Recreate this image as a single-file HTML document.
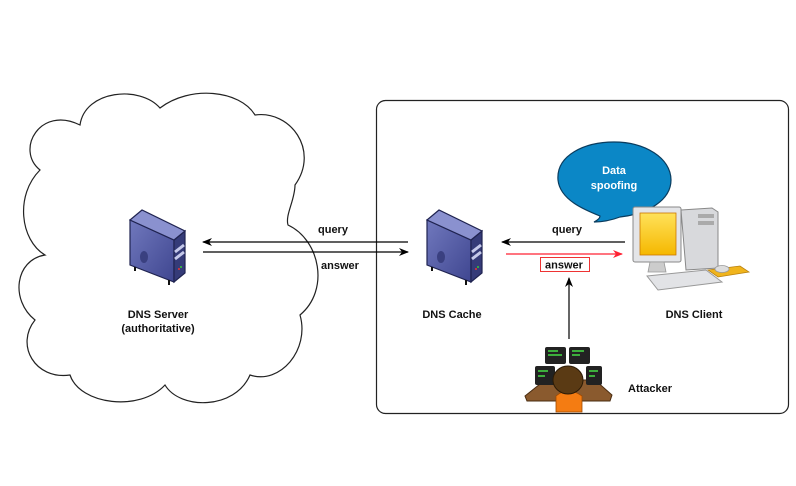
<!DOCTYPE html>
<html><head><meta charset="utf-8"><style>
html,body{margin:0;padding:0;background:#fff;}
svg{display:block;}
text{font-family:"Liberation Sans",sans-serif;font-weight:bold;font-size:11px;fill:#111;}
</style></head><body>
<svg width="796" height="486" viewBox="0 0 796 486" xmlns="http://www.w3.org/2000/svg">
<defs>
<marker id="ah" markerWidth="10" markerHeight="8" refX="9" refY="4" orient="auto" markerUnits="userSpaceOnUse"><path d="M0,0 L10,4 L0,8 L3,4Z" fill="#000"/></marker>
<marker id="ahr" markerWidth="10" markerHeight="8" refX="9" refY="4" orient="auto" markerUnits="userSpaceOnUse"><path d="M0,0 L10,4 L0,8 L3,4Z" fill="#f23"/></marker>
<linearGradient id="sl" x1="0" y1="0" x2="1" y2="1"><stop offset="0" stop-color="#7078bd"/><stop offset="1" stop-color="#3f4690"/></linearGradient>
<linearGradient id="scr" x1="0" y1="0" x2="0" y2="1"><stop offset="0" stop-color="#ffe25a"/><stop offset="1" stop-color="#f5b800"/></linearGradient>
<g id="srv">
<path d="M3,13 L47,33 L47,75 L3,58Z" fill="url(#sl)" stroke="#1f2350" stroke-width="1.2"/>
<path d="M47,33 L58,24 L58,66 L47,75Z" fill="#353b78" stroke="#1f2350" stroke-width="1.2"/>
<path d="M3,13 L15,3 L58,24 L47,33Z" fill="#8a91cf" stroke="#1f2350" stroke-width="1.2"/>
<path d="M48,45 L57,38 M48,52 L57,45" stroke="#c5c9ea" stroke-width="3"/>
<circle cx="52" cy="62" r="1" fill="#e33"/><circle cx="54" cy="60" r="1" fill="#3c3"/>
<ellipse cx="17" cy="50" rx="4" ry="6" fill="#3a4080"/>
<path d="M8,60 L8,64 M42,73 L42,78" stroke="#111" stroke-width="2"/>
</g>
</defs>
<!-- cloud -->
<path d="M40,170 C15,150 40,105 80,125 C85,90 140,85 160,108 C190,85 240,90 255,115 C290,110 320,150 295,185 C295,200 285,215 288,225 C320,240 330,290 300,315 C310,350 280,385 250,375 C235,410 180,410 165,385 C140,412 80,405 70,375 C35,380 15,345 35,320 C10,300 15,260 45,255 C20,240 15,195 40,170Z" fill="#fff" stroke="#222" stroke-width="1.2"/>
<!-- box -->
<rect x="376.5" y="100.5" width="412" height="313" rx="9" fill="#fff" stroke="#222" stroke-width="1.2"/>
<!-- servers -->
<use href="#srv" x="127" y="207"/>
<use href="#srv" x="424" y="207"/>
<!-- arrows left -->
<line x1="408" y1="242" x2="203" y2="242" stroke="#000" stroke-width="1.2" marker-end="url(#ah)"/>
<line x1="203" y1="252" x2="408" y2="252" stroke="#000" stroke-width="1.2" marker-end="url(#ah)"/>
<text x="318" y="233">query</text>
<text x="321" y="269">answer</text>
<!-- arrows right -->
<line x1="625" y1="242" x2="502" y2="242" stroke="#000" stroke-width="1.2" marker-end="url(#ah)"/>
<line x1="506" y1="254" x2="622" y2="254" stroke="#f23" stroke-width="1.2" marker-end="url(#ahr)"/>
<text x="552" y="233">query</text>
<rect x="540.5" y="257.5" width="49" height="14" fill="#fff" stroke="#e33" stroke-width="1"/>
<text x="545" y="268.5">answer</text>
<line x1="569" y1="339" x2="569" y2="278" stroke="#000" stroke-width="1.2" marker-end="url(#ah)"/>
<!-- bubble -->
<path d="M600,216 C585,210 560,200 558,180 C556,155 585,142 614,142 C645,142 671,158 671,180 C671,200 648,214 620,217 C612,220 603,222 594,222 C598,220 600,218 600,216Z" fill="#0b87c6" stroke="#0a3c5e" stroke-width="1.2"/>
<text x="614" y="174" text-anchor="middle" style="fill:#fff">Data</text>
<text x="614" y="189" text-anchor="middle" style="fill:#fff">spoofing</text>
<!-- computer -->
<path d="M681,210 L712,208 L718,212 L718,268 L686,270 Z" fill="#d8d9dc" stroke="#888" stroke-width="1"/>
<rect x="698" y="214" width="16" height="4" fill="#aaa"/><rect x="698" y="221" width="16" height="4" fill="#aaa"/>
<rect x="633" y="207" width="48" height="55" rx="2" fill="#e4e5e8" stroke="#888" stroke-width="1"/>
<rect x="640" y="213" width="36" height="42" fill="url(#scr)" stroke="#c70" stroke-width="0.8"/>
<path d="M650,262 L664,262 L666,272 L648,272Z" fill="#ccc" stroke="#999" stroke-width="0.8"/>
<path d="M647,276 L706,270 L722,282 L658,290 Z" fill="#e2e3e6" stroke="#999" stroke-width="1"/>
<path d="M708,270 L740,266 L749,272 L718,277 Z" fill="#f0b41c" stroke="#b88010" stroke-width="0.8"/>
<ellipse cx="722" cy="269" rx="7" ry="3.5" fill="#ddd" stroke="#999" stroke-width="0.8"/>
<!-- attacker -->
<path d="M525,396 L545,380 L595,380 L612,395 L610,401 L527,401 Z" fill="#8a5a2e" stroke="#4a2c10" stroke-width="1"/>
<rect x="545" y="347" width="21" height="17" rx="2" fill="#222"/>
<rect x="569" y="347" width="21" height="17" rx="2" fill="#222"/>
<rect x="535" y="366" width="20" height="19" rx="2" fill="#222"/>
<rect x="586" y="366" width="16" height="19" rx="2" fill="#222"/>
<path d="M548,351 h10 M548,355 h14 M572,351 h12 M572,355 h8 M538,371 h10 M538,376 h7 M589,371 h9 M589,376 h6" stroke="#4d4" stroke-width="1.5"/>
<path d="M556,412 L556,396 Q568,386 582,396 L582,412Z" fill="#f47c12" stroke="#a04a00" stroke-width="0.8"/>
<ellipse cx="568" cy="380" rx="15" ry="14" fill="#5a3a14" stroke="#2a1a06" stroke-width="1"/>
<!-- labels -->
<text x="158" y="318" text-anchor="middle">DNS Server</text>
<text x="158" y="332" text-anchor="middle">(authoritative)</text>
<text x="452" y="318" text-anchor="middle">DNS Cache</text>
<text x="694" y="318" text-anchor="middle">DNS Client</text>
<text x="628" y="392">Attacker</text>
</svg>
</body></html>
